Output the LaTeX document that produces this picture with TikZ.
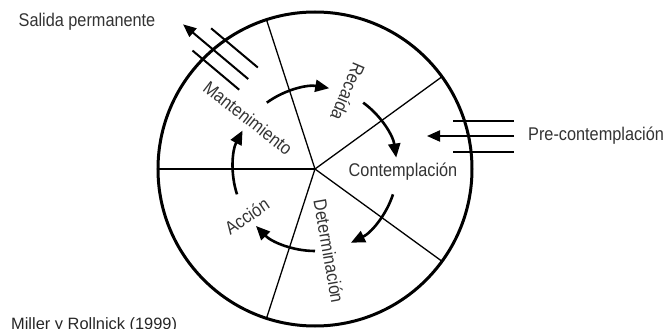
\documentclass[tikz,border=0pt]{standalone}
\usepackage{fontspec}
\setmainfont{Liberation Sans}[FakeStretch=0.885]
\newfontfamily\srcfont{Liberation Sans}
\usetikzlibrary{arrows.meta}

\begin{document}
\begin{tikzpicture}[x=1pt, y=1pt,
  wheel/.style={line width=3pt},
  ray/.style={line width=1.3pt},
  turn/.style={line width=2.6pt, -{Triangle[length=14pt, width=12pt]}},
  flow/.style={line width=2pt},
  flowarr/.style={flow, -{Triangle[length=13pt, width=11pt]}},
  stage/.style={font=\fontsize{18.4}{20}\selectfont, text=black!80,
    inner sep=0pt},
  label/.style={font=\fontsize{18.4}{20}\selectfont, text=black!80,
    inner sep=0pt}
]
\useasboundingbox (-315,-160) rectangle (354,169);

% Wheel
\coordinate (c) at (0,0);
\draw[wheel] (c) circle[radius=157pt];
\foreach \a in {-36,36,108,180,252}
  \draw[ray] (c) -- (\a:157);

% Cycle arrows
\foreach \a in {-36,36,108,180,252}
  \draw[turn] (\a+18:82) arc[start angle=\a+18, end angle=\a-28,
    radius=82pt];

% Stages
\node[stage, rotate=-38] (mant) at (-67,51) {Mantenimiento};
\node[stage, rotate=-113] (reca) at (33,77) {Recaída};
\node[stage] (cont) at (88,-3) {Contemplación};
\node[stage, rotate=-80] (dete) at (14,-82) {Determinación};
\node[stage, rotate=34] (acci) at (-68,-47) {Acción};

% Entry (right)
\coordinate (pc-out) at (199,33);
\coordinate (pc-in) at (112,33);
\draw[flow] (138,48) -- (199,48);
\draw[flowarr] (pc-out) -- (pc-in);
\draw[flow] (138,17) -- (199,17);
\node[label, anchor=west] (pre) at (213,33) {Pre-contemplación};

% Exit (top left)
\begin{scope}[rotate=140]
  \coordinate (sp-in) at (109,-26);
  \coordinate (sp-out) at (194,-26);
  \draw[flow] (109,-41) -- (170,-41);
  \draw[flowarr] (sp-in) -- (sp-out);
  \draw[flow] (109,-12) -- (170,-12);
\end{scope}
\node[label] (sal) at (-228,147) {Salida permanente};

% Source
\node[anchor=base west, inner sep=0pt, text=black!85,
  font=\srcfont\fontsize{16.4}{18}\selectfont] (src) at (-304,-160)
  {Miller y Rollnick (1999)};

\end{tikzpicture}
\end{document}
